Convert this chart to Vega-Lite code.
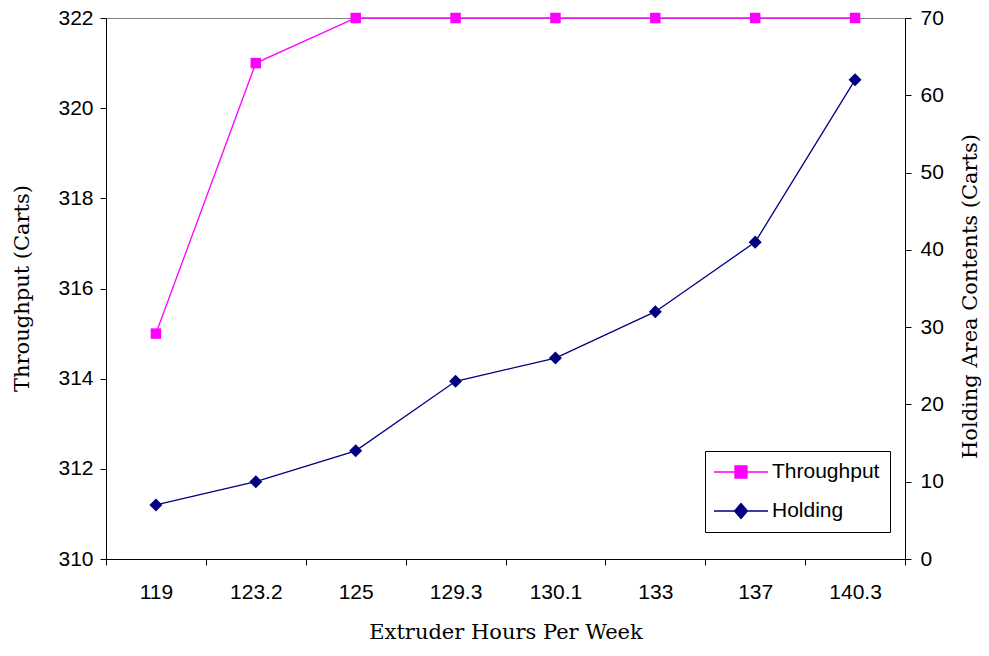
{
  "$schema": "https://vega.github.io/schema/vega-lite/v6.json",
  "width": 799,
  "height": 541,
  "autosize": {"type": "none"},
  "padding": {"left": 106, "top": 18, "right": 84, "bottom": 97},
  "background": "white",
  "config": {
    "view": {"stroke": "#808080", "strokeWidth": 1},
    "axis": {
      "domainColor": "black",
      "tickColor": "black",
      "labelColor": "black",
      "titleColor": "black",
      "labelFont": "Liberation Sans",
      "labelFontSize": 21,
      "titleFont": "DejaVu Serif",
      "titleFontSize": 21,
      "titleFontWeight": "normal",
      "grid": false,
      "tickSize": 6
    }
  },
  "data": {
    "values": [
      {"x": "119", "series": "Throughput", "value": 315},
      {"x": "123.2", "series": "Throughput", "value": 321},
      {"x": "125", "series": "Throughput", "value": 322},
      {"x": "129.3", "series": "Throughput", "value": 322},
      {"x": "130.1", "series": "Throughput", "value": 322},
      {"x": "133", "series": "Throughput", "value": 322},
      {"x": "137", "series": "Throughput", "value": 322},
      {"x": "140.3", "series": "Throughput", "value": 322},
      {"x": "119", "series": "Holding", "value": 7},
      {"x": "123.2", "series": "Holding", "value": 10},
      {"x": "125", "series": "Holding", "value": 14},
      {"x": "129.3", "series": "Holding", "value": 23},
      {"x": "130.1", "series": "Holding", "value": 26},
      {"x": "133", "series": "Holding", "value": 32},
      {"x": "137", "series": "Holding", "value": 41},
      {"x": "140.3", "series": "Holding", "value": 62}
    ]
  },
  "encoding": {
    "x": {
      "field": "x",
      "type": "ordinal",
      "sort": null,
      "scale": {"type": "band", "paddingInner": 0, "paddingOuter": 0},
      "axis": {
        "title": "Extruder Hours Per Week",
        "labelAngle": 0,
        "tickBand": "extent",
        "labelPadding": 16,
        "titlePadding": 19
      }
    },
    "color": {
      "field": "series",
      "type": "nominal",
      "scale": {"domain": ["Throughput", "Holding"], "range": ["#FF00FF", "#000080"]},
      "legend": null
    }
  },
  "layer": [
    {
      "transform": [{"filter": "datum.series === 'Throughput'"}],
      "encoding": {
        "y": {
          "field": "value",
          "type": "quantitative",
          "scale": {"domain": [310, 322], "zero": false, "nice": false},
          "axis": {
            "orient": "left",
            "values": [310, 312, 314, 316, 318, 320, 322],
            "title": "Throughput (Carts)",
            "labelPadding": 7,
            "titlePadding": 25,
            "titleY": 270
          }
        }
      },
      "layer": [
        {
          "mark": {"type": "line", "strokeWidth": 1.3},
          "encoding": {
            "color": {
              "field": "series",
              "type": "nominal",
              "scale": {"domain": ["Throughput", "Holding"], "range": ["#FF00FF", "#000080"]},
              "legend": {
                "title": null,
                "orient": "none",
                "legendX": 599,
                "legendY": 433,
                "strokeColor": "black",
                "fillColor": "white",
                "padding": 10,
                "symbolSize": 400,
                "symbolOffset": 15,
                "symbolStrokeWidth": 1.3,
                "rowPadding": 18,
                "labelOffset": 20,
                "labelFont": "Liberation Sans",
                "labelFontSize": 21,
                "labelColor": "black",
                "labelLimit": 300,
                "encode": {
                  "symbols": {
                    "update": {
                      "shape": {"signal": "datum.value === 'Throughput' ? 'M-2.7,0H2.7M-0.6,-0.6H0.6V0.6H-0.6Z' : 'M-2.7,0H2.7M0,-0.75L0.65,0L0,0.75L-0.65,0Z'"},
                      "fill": {"scale": "color", "field": "value"},
                      "stroke": {"scale": "color", "field": "value"},
                      "fillOpacity": {"value": 1}
                    }
                  }
                }
              }
            }
          }
        },
        {
          "mark": {"type": "point", "shape": "square", "filled": true, "size": 110, "opacity": 1}
        }
      ]
    },
    {
      "transform": [{"filter": "datum.series === 'Holding'"}],
      "encoding": {
        "y": {
          "field": "value",
          "type": "quantitative",
          "scale": {"domain": [0, 70], "nice": false},
          "axis": {
            "orient": "right",
            "values": [0, 10, 20, 30, 40, 50, 60, 70],
            "title": "Holding Area Contents (Carts)",
            "titleAngle": 270,
            "titleBaseline": "middle",
            "titleAlign": "center",
            "labelPadding": 9,
            "titleX": 65,
            "titleY": 278
          }
        }
      },
      "layer": [
        {"mark": {"type": "line", "strokeWidth": 1.3}, "encoding": {}},
        {"mark": {"type": "point", "shape": "diamond", "filled": true, "size": 170, "opacity": 1}}
      ]
    }
  ],
  "resolve": {"scale": {"y": "independent"}}
}
